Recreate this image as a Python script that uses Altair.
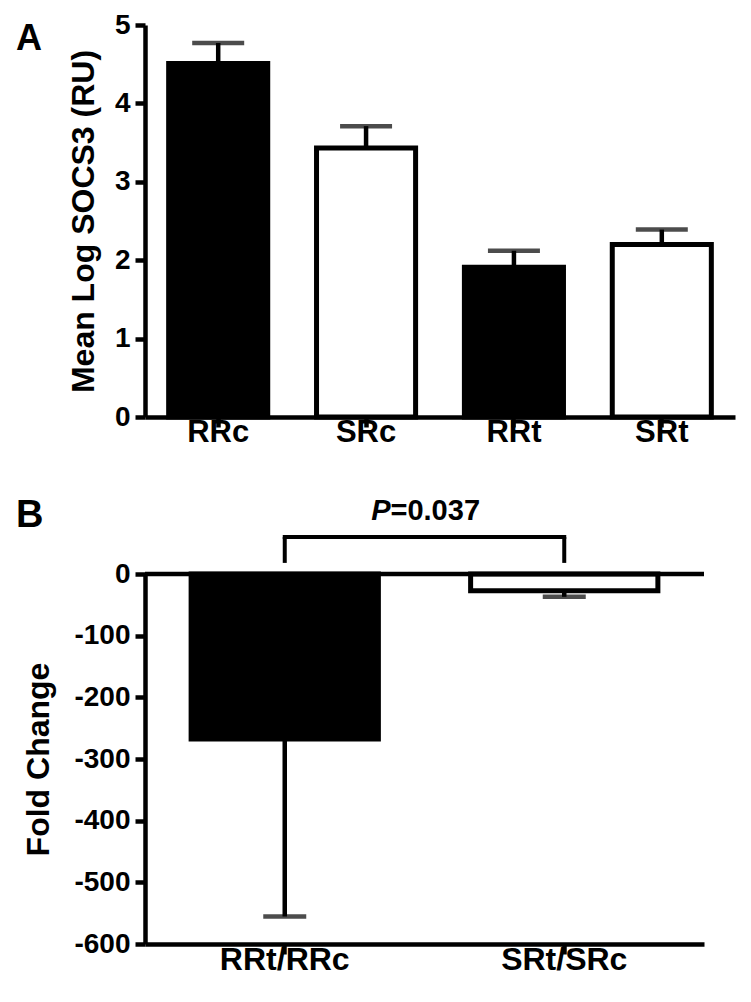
import altair as alt
import pandas as pd

# ---------------- data ----------------
cats_a = ["RRc", "SRc", "RRt", "SRt"]
strain_a = ["RR", "SR", "RR", "SR"]
mean_a = [4.51, 3.43, 1.91, 2.20]
sem_a = [0.26, 0.28, 0.21, 0.19]
yticks_a = [0, 1, 2, 3, 4, 5]

cats_b = ["RRt/RRc", "SRt/SRc"]
strain_b = ["RR", "SR"]
mean_b = [-267.5, -27.0]
sem_b = [288.0, 10.0]
yticks_b = [0, -100, -200, -300, -400, -500, -600]

p_value_text = "=0.037"
bracket_top = 60
bracket_leg = 18
p_text_y = 87

FONT = "Liberation Sans"
WA, HA = 590, 392
WB, HB = 559, 370

dfa = pd.DataFrame({"cat": cats_a, "strain": strain_a, "mean": mean_a, "sem": sem_a})
dfa["hi"] = dfa["mean"] + dfa["sem"]

dfb = pd.DataFrame({"cat": cats_b, "strain": strain_b, "mean": mean_b, "sem": sem_b})
dfb["lo"] = dfb["mean"] - dfb["sem"]

color = alt.Color("strain:N",
                  scale=alt.Scale(domain=["RR", "SR"], range=["#000000", "#ffffff"]),
                  legend=None)

# ---------------- panel A ----------------
xa = alt.X("cat:N", sort=cats_a, title=None,
           scale=alt.Scale(paddingInner=0.33, paddingOuter=0.16),
           axis=alt.Axis(labelAngle=0, labelAlign="center", labelPadding=5, labelFontSize=31))
ya = alt.Y("mean:Q", title="Mean Log SOCS3 (RU)",
           scale=alt.Scale(domain=[0, 5], nice=False),
           axis=alt.Axis(values=yticks_a, format="d", titlePadding=14, labelPadding=5))

base_a = alt.Chart(dfa)
err_a = base_a.mark_rule(color="black", strokeWidth=4.5).encode(
    x=alt.X("cat:N", sort=cats_a), y="mean:Q", y2="hi:Q")
cap_a = base_a.mark_tick(color="black", thickness=4.5, size=52, orient="horizontal").encode(
    x=alt.X("cat:N", sort=cats_a), y="hi:Q")
bars_a = base_a.mark_bar(stroke="black", strokeWidth=5).encode(x=xa, y=ya, color=color)

panel_a = alt.layer(err_a, cap_a, bars_a).properties(
    width=WA, height=HA,
    title=alt.TitleParams("A", anchor="start", frame="group", dx=-129, offset=-47,
                          baseline="top", fontSize=36, font=FONT, fontWeight="bold",
                          color="black"))

# ---------------- panel B ----------------
xb = alt.X("cat:N", sort=cats_b, title=None,
           scale=alt.Scale(paddingInner=0.33, paddingOuter=0.165),
           axis=alt.Axis(labelAngle=0, labelAlign="center", labelPadding=5, labelFontSize=32))
yb = alt.Y("mean:Q", title="Fold Change",
           scale=alt.Scale(domain=[-600, 0], nice=False),
           axis=alt.Axis(values=yticks_b, titlePadding=18, labelPadding=5,
                         labelExpr="'' + datum.value"))

base_b = alt.Chart(dfb)
err_b = base_b.mark_rule(color="black", strokeWidth=4.5).encode(
    x=alt.X("cat:N", sort=cats_b), y="mean:Q", y2="lo:Q")
cap_b = base_b.mark_tick(color="black", thickness=4.5, size=43, orient="horizontal").encode(
    x=alt.X("cat:N", sort=cats_b), y="lo:Q")
bars_b = base_b.mark_bar(stroke="black", strokeWidth=5).encode(x=xb, y=yb, color=color)
zero_b = alt.Chart(pd.DataFrame({"z": [0]})).mark_rule(color="black", strokeWidth=4.5).encode(
    y="z:Q")

br = pd.DataFrame({"cat": cats_b, "top": [bracket_top] * 2, "leg": [bracket_leg] * 2})
legs = alt.Chart(br).mark_rule(color="black", strokeWidth=4).encode(
    x=alt.X("cat:N", sort=cats_b), y="leg:Q", y2="top:Q")
topbar = alt.Chart(pd.DataFrame({"a": [cats_b[0]], "b": [cats_b[1]], "top": [bracket_top]})).mark_rule(
    color="black", strokeWidth=4, strokeCap="square").encode(
    x=alt.X("a:N", sort=cats_b), x2="b:N", y="top:Q")
txt_df = pd.DataFrame({"y": [p_text_y]})
p_italic = alt.Chart(txt_df).mark_text(
    text="P", font=FONT, fontSize=29, fontWeight="bold", fontStyle="italic",
    align="right", baseline="alphabetic", color="black", dx=-34).encode(
    x=alt.value(WB / 2), y="y:Q")
p_rest = alt.Chart(txt_df).mark_text(
    text=p_value_text, font=FONT, fontSize=29, fontWeight="bold",
    align="left", baseline="alphabetic", color="black", dx=-34).encode(
    x=alt.value(WB / 2), y="y:Q")

panel_b = alt.layer(err_b, cap_b, bars_b, zero_b, legs, topbar, p_italic, p_rest).properties(
    width=WB, height=HB,
    title=alt.TitleParams("B", anchor="start", frame="group", dx=-129, offset=-38,
                          baseline="top", fontSize=38, font=FONT, fontWeight="bold",
                          color="black"))

chart = alt.vconcat(panel_a, panel_b, spacing=50).properties(
    padding={"left": 8, "top": 3, "right": 5, "bottom": 5}
).configure_axis(
    domainColor="black", domainWidth=4.5, tickColor="black", tickWidth=4.5, tickSize=10,
    labelFont=FONT, labelFontSize=28, labelFontWeight="bold", labelColor="black",
    titleFont=FONT, titleFontSize=32, titleFontWeight="bold", titleColor="black",
    grid=False
).configure_view(stroke=None)

chart.save("out.html", embed_options={"renderer": "svg", "actions": False})
